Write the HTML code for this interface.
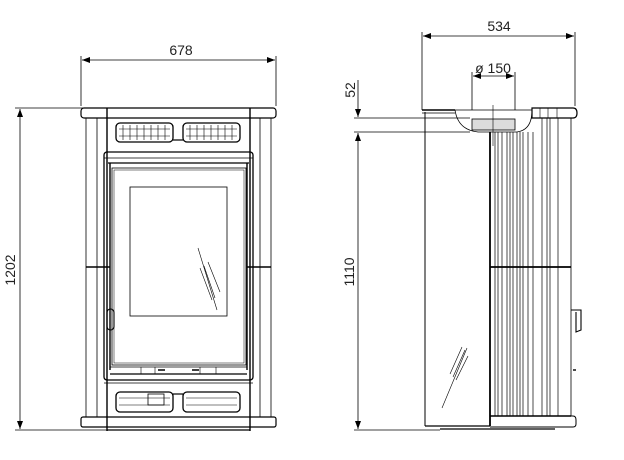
<!DOCTYPE html>
<html><head><style>html,body{margin:0;padding:0;background:#fff}svg{display:block}</style></head><body>
<svg width="624" height="460" viewBox="0 0 624 460" xmlns="http://www.w3.org/2000/svg" font-family="Liberation Sans, sans-serif">
<defs>
<marker id="a" markerWidth="8" markerHeight="6" refX="8" refY="3" orient="auto-start-reverse" markerUnits="userSpaceOnUse"><path d="M0,0 L8,3 L0,6z" fill="#000"/></marker>
</defs>
<g stroke="#000" fill="none" stroke-width="0.8">
<line x1="81" y1="56" x2="81" y2="106"/><line x1="276" y1="56" x2="276" y2="106"/>
<line x1="82" y1="60" x2="275" y2="60" marker-start="url(#a)" marker-end="url(#a)"/>
<line x1="15" y1="108" x2="112" y2="108"/><line x1="15" y1="430" x2="107" y2="430"/>
<line x1="20" y1="109" x2="20" y2="429" marker-start="url(#a)" marker-end="url(#a)"/>
<rect x="81" y="108" width="195" height="10" rx="3" stroke-width="1.2"/>
<line x1="86" y1="118" x2="86" y2="417"/><line x1="97" y1="118" x2="97" y2="417"/>
<line x1="271" y1="118" x2="271" y2="417"/><line x1="260" y1="118" x2="260" y2="417"/>
<line x1="107" y1="108" x2="107" y2="431" stroke-width="1.4"/><line x1="250" y1="108" x2="250" y2="431" stroke-width="1.4"/>
<line x1="86" y1="267" x2="110" y2="267" stroke-width="1.6"/><line x1="247" y1="267" x2="271" y2="267" stroke-width="1.6"/>
<rect x="116" y="123" width="57" height="19" rx="4" stroke-width="1.3"/>
<rect x="183" y="123" width="57" height="19" rx="4" stroke-width="1.3"/>
<g stroke-width="0.6">
<path d="M119 129H170M119 136H170M186 129H237M186 136H237"/>
<path d="M123 125V140M130 125V140M137 125V140M144 125V140M151 125V140M158 125V140M165 125V140"/>
<path d="M190 125V140M197 125V140M204 125V140M211 125V140M218 125V140M225 125V140M232 125V140"/>
</g>
<path d="M173 140H183" stroke-width="1.2"/>
<rect x="104" y="152" width="149" height="228" rx="3" stroke-width="1.3"/>
<line x1="104" y1="158" x2="253" y2="158"/>
<line x1="108" y1="163" x2="249" y2="163" stroke-width="1.2"/>
<rect x="112" y="168" width="134" height="197"/>
<rect x="114" y="170" width="130" height="193" stroke-width="0.5"/>
<line x1="110" y1="163" x2="110" y2="370" stroke-width="1.4"/><line x1="247" y1="163" x2="247" y2="370" stroke-width="1.4"/>
<rect x="130" y="187" width="97" height="129"/>
<g stroke-width="0.6"><line x1="198" y1="248" x2="217" y2="310"/><line x1="200" y1="268" x2="212" y2="300"/><line x1="204" y1="266" x2="215" y2="298"/><line x1="208" y1="262" x2="220" y2="292"/></g>
<rect x="107" y="309" width="7" height="21" rx="3.5" stroke-width="1.1"/>
<line x1="110" y1="367" x2="247" y2="367"/><line x1="110" y1="374" x2="247" y2="374" stroke-width="1.2"/>
<path d="M141 367V374M155 367V374M200 367V374M216 367V374" stroke-width="0.6"/>
<path d="M158 370H165M192 370H199" stroke-width="1.6"/>
<line x1="104" y1="383" x2="253" y2="383"/>
<rect x="116" y="392" width="57" height="20" rx="4" stroke-width="1.3"/>
<rect x="183" y="392" width="57" height="20" rx="4" stroke-width="1.3"/>
<path d="M119 398H170M119 405H170M186 398H237M186 405H237" stroke-width="0.6"/>
<rect x="148" y="394" width="16" height="11" stroke-width="0.8"/>
<path d="M173 394H183" stroke-width="1.2"/>
<rect x="81" y="417" width="195" height="10" rx="2" stroke-width="1.2"/>
<line x1="107" y1="430" x2="250" y2="430" stroke-width="1.2"/>

<line x1="422" y1="32" x2="422" y2="110"/><line x1="575" y1="32" x2="575" y2="106"/>
<line x1="423" y1="36" x2="574" y2="36" marker-start="url(#a)" marker-end="url(#a)"/>
<line x1="472" y1="72" x2="472" y2="110"/><line x1="515" y1="72" x2="515" y2="110"/>
<line x1="473" y1="76" x2="514" y2="76" marker-start="url(#a)" marker-end="url(#a)"/>
<line x1="358" y1="80" x2="358" y2="117" marker-end="url(#a)"/>
<line x1="354" y1="118" x2="470" y2="118"/><line x1="354" y1="132" x2="470" y2="132"/>
<line x1="358" y1="133" x2="358" y2="429" marker-start="url(#a)" marker-end="url(#a)"/>
<line x1="354" y1="430" x2="440" y2="430"/>
<path d="M422 110H455" stroke-width="1.6"/><path d="M422 113H455" stroke-width="0.8"/>
<path d="M455 110H532 M455 110 Q458 130 478 132 L517 132 Q532 130 532 110"/>
<rect x="472" y="119" width="43" height="11" fill="#dcdcdc" stroke-width="0.8"/>
<line x1="493" y1="105" x2="493" y2="146" stroke-width="0.6"/>
<path d="M532 108H573Q577 108 577 113Q577 118 573 118H532Z" stroke-width="1.2"/>
<path d="M540 108V118M548 108V118M557 108V118" stroke-width="0.6"/>
<line x1="425" y1="112" x2="425" y2="426" stroke-width="1"/>
<line x1="425" y1="426" x2="490" y2="426" stroke-width="1.2"/>
<line x1="490" y1="132" x2="490" y2="426" stroke-width="1.8"/>
<g stroke-width="0.7">
<path d="M495 132V416M498 132V416M502 132V416M507 132V416M510 132V416M513 132V416M517 132V416M520 132V416M523 132V416M528 132V416M533 132V416M542 118V416M547 118V416M550 118V416M558 118V416"/>
</g>
<line x1="571" y1="118" x2="571" y2="416"/>
<line x1="490" y1="267" x2="571" y2="267" stroke-width="1.8"/>
<line x1="490" y1="416" x2="571" y2="416" stroke-width="1.4"/>
<path d="M490 416H573Q576 416 576 420V424Q576 427 573 427H490" stroke-width="1"/>
<path d="M440 429H555" stroke-width="1.2"/>
<path d="M571 310H581V330L576 332V312" stroke-width="1.1"/>
<path d="M573 370H576" stroke-width="1.4"/>
<g stroke-width="0.6"><line x1="442" y1="408" x2="467" y2="348"/><line x1="450" y1="374" x2="462" y2="347"/><line x1="453" y1="377" x2="465" y2="350"/><line x1="456" y1="380" x2="468" y2="356"/></g>
</g>
<g font-size="14" fill="#222" text-anchor="middle">
<text x="181" y="55">678</text>
<text x="499" y="31">534</text>
<text x="493" y="73">ø 150</text>
<text transform="translate(15,270) rotate(-90)">1202</text>
<text transform="translate(355,90) rotate(-90)">52</text>
<text transform="translate(354,272) rotate(-90)">1110</text>
</g>
</svg>
</body></html>
